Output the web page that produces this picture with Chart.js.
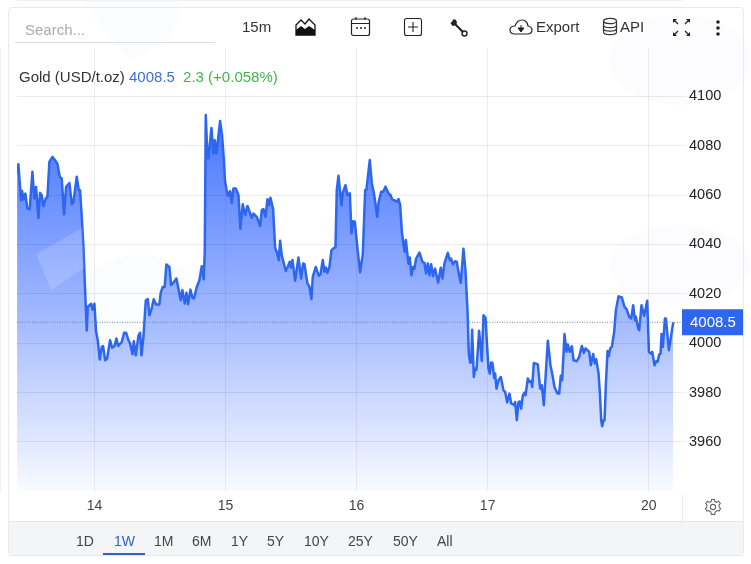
<!DOCTYPE html>
<html lang="en">
<head>
<meta charset="UTF-8">
<title>Gold (USD/t.oz)</title>
<script src="https://cdn.jsdelivr.net/npm/chart.js@4"></script>
<style>
  html, body { margin: 0; padding: 0; background: #fff; }
  body { width: 751px; height: 564px; position: relative; overflow: hidden; font-family: "Liberation Sans", Arial, sans-serif; color: #333; }
  #frame { position: absolute; left: 8px; top: 7px; width: 734px; height: 547px; border: 1px solid #e9e9e9; border-radius: 4px; }
  #bottom { position: absolute; left: 9px; top: 521px; width: 734px; height: 33px; background: rgba(240,241,243,.75); border-top: 1px solid #e6e6e6; border-radius: 0 0 4px 4px; }
  #blobs, #chart { position: absolute; left: 0; top: 0; }
  .txt { position: absolute; font-size: 14px; line-height: 18px; white-space: nowrap; }
  .big { font-size: 15px; }
  .icon { position: absolute; }
  #search { left: 25px; top: 21px; color: #aaa; }
  #searchline { position: absolute; left: 15px; top: 42px; width: 200px; height: 1px; background: #ddd; }
  #head { left: 19px; top: 68px; color: #333; }
  #head .p { color: #3f6fd8; }
  #head .c { color: #3fb74d; margin-left: 4px; }
  #underline { position: absolute; left: 103px; top: 553px; width: 42px; height: 2px; background: #2f62c9; }
  #axisstub { position: absolute; left: 682px; top: 495px; width: 1px; height: 26px; background: #e8e8e8; }
</style>
</head>
<body>
<svg id="blobs" width="751" height="564">
  <path d="M85 0 L180 0 Q185 40 130 60 Q100 30 85 0Z" fill="#fbfcfe"/>
  <ellipse cx="140" cy="300" rx="60" ry="45" fill="#fbfcfe"/>
  <ellipse cx="680" cy="60" rx="70" ry="45" fill="#fcfcfe"/>
  <ellipse cx="680" cy="265" rx="70" ry="40" fill="#fcfcfe"/>
</svg>
<div id="frame"></div>
<div id="bottom"></div>
<div id="axisstub"></div>
<canvas id="chart" width="751" height="564"></canvas>

<div class="txt big" id="search">Search...</div>
<div id="searchline"></div>
<div class="txt big" style="left:242px;top:18px">15m</div>

<svg class="icon" style="left:295px;top:17px" width="21" height="20" viewBox="0 0 21 20">
  <path d="M1 18 V8 L6 3 L10 7 L14 2 L20 8 V18 Z" fill="none" stroke="#111" stroke-width="1.3"/>
  <path d="M1 18 V13 L6 9 L10 12 L14 9 L20 13 V18 Z" fill="#111"/>
</svg>
<svg class="icon" style="left:350px;top:16px" width="21" height="21" viewBox="0 0 21 21">
  <rect x="1.5" y="3" width="18" height="16.5" rx="2" fill="none" stroke="#222" stroke-width="1.2"/>
  <path d="M1.5 7.5 H19.5 M6 1 V4 M15 1 V4" stroke="#222" stroke-width="1.2"/>
  <path d="M6 12 H8 M10 12 H12 M14 12 H16" stroke="#222" stroke-width="1.4"/>
</svg>
<svg class="icon" style="left:403px;top:17px" width="20" height="20" viewBox="0 0 20 20">
  <rect x="1.5" y="1.5" width="17" height="17" rx="2" fill="none" stroke="#222" stroke-width="1.1"/>
  <path d="M10 5 V15 M5 10 H15" stroke="#222" stroke-width="1.1"/>
</svg>
<svg class="icon" style="left:449px;top:18px" width="20" height="20" viewBox="0 0 20 20">
  <path d="M1.5 5 L4 2.5 L3.5 1.5 L6.5 1.5 L8 4 L7.5 6 L15 13.5 L13.5 15 L6 7.5 L3.5 8 Z" fill="#222"/>
  <circle cx="15.5" cy="15.5" r="2.5" fill="none" stroke="#222" stroke-width="1.4"/>
</svg>
<svg class="icon" style="left:509px;top:17px" width="24" height="20" viewBox="0 0 24 20">
  <path d="M6 17 Q1 17 1 13 Q1 9 6 9 Q8 3 13 3 Q18 3 19 9 Q23 10 23 13 Q23 17 18 17 Z" fill="none" stroke="#222" stroke-width="1.2"/>
  <path d="M12 8 V12 M9 11 L12 15 L15 11 Z" stroke="#222" fill="#222" stroke-width="1"/>
</svg>
<div class="txt big" style="left:536px;top:18px">Export</div>
<svg class="icon" style="left:602px;top:17px" width="16" height="20" viewBox="0 0 16 20">
  <g fill="none" stroke="#333" stroke-width="1.2">
    <ellipse cx="8" cy="4" rx="6.5" ry="2.7"/>
    <path d="M1.5 4 V15 C1.5 18.5 14.5 18.5 14.5 15 V4"/>
    <path d="M1.5 8 C1.5 11.5 14.5 11.5 14.5 8 M1.5 11.5 C1.5 15 14.5 15 14.5 11.5"/>
  </g>
</svg>
<div class="txt big" style="left:620px;top:18px">API</div>
<svg class="icon" style="left:671px;top:17px" width="21" height="21" viewBox="0 0 21 21">
  <g fill="none" stroke="#222" stroke-width="1.2">
    <path d="M2 6 V2 H6 Z M15 2 H19 V6 Z M2 15 V19 H6 Z M15 19 H19 V15 Z" fill="#222" stroke="none"/>
    <path d="M3 3 L7 7 M18 3 L14 7 M3 18 L7 14 M18 18 L14 14"/>
  </g>
</svg>
<svg class="icon" style="left:714px;top:19px" width="8" height="18" viewBox="0 0 8 18">
  <circle cx="4" cy="3" r="1.8" fill="#222"/><circle cx="4" cy="9" r="1.8" fill="#222"/><circle cx="4" cy="15" r="1.8" fill="#222"/>
</svg>

<div class="txt big" id="head">Gold (USD/t.oz) <span class="p">4008.5</span> <span class="c">2.3 (+0.058%)</span></div>

<svg class="icon" style="left:704px;top:498px" width="18" height="18" viewBox="0 0 18 18">
  <circle cx="9" cy="9" r="2.6" fill="none" stroke="#666" stroke-width="1.1"/>
  <path d="M7.6 1.5 H10.4 L10.8 3.6 L12.6 4.4 L14.4 3.2 L16.3 5.5 L14.9 7.2 L15.3 9 L16.6 10.6 L15 13 L13 12.5 L11.4 13.9 L10.6 16.4 H7.4 L6.6 13.9 L5 12.5 L3 13 L1.4 10.6 L2.7 9 L3.1 7.2 L1.7 5.5 L3.6 3.2 L5.4 4.4 L7.2 3.6 Z" fill="none" stroke="#666" stroke-width="1.1"/>
</svg>
<div id="underline"></div>

<script>
// hours counted from the start of the 14th, weekend gap closed
const hours = [
  -14.19,-13.95,-13.46,-13.28,-12.97,-12.67,-12.3,-11.87,-11.38,-11.02,-10.71,-10.28,-9.98,-9.67,-9.37,-8.94,-8.63,-8.27,-7.72,-7.23,-6.8,-6.37,-6.01,-5.58,-5.21,-4.6,-4.17,-3.87,-3.26,-2.89,-2.65,-2.34,-2.03,-1.73,-1.42,-1.24,-0.63,-0.38,-0.02,
  0.29,0.59,0.96,1.33,1.57,1.94,2.3,2.85,3.22,3.65,4.01,4.32,4.99,5.42,5.79,6.21,6.52,6.95,7.19,7.56,8.05,8.35,8.6,8.96,9.39,9.76,10.06,10.47,10.84,11.27,11.88,12.12,12.49,12.85,13.16,13.71,14.02,14.5,15,15.36,15.79,16.09,16.52,16.83,17.13,17.56,17.93,18.23,18.72,19.21,19.64,20,20.19,20.37,20.68,20.86,21.41,21.78,22.02,22.33,23,23.36,23.67,23.91,
  24.4,24.83,25.14,25.44,25.87,26.36,26.72,27.15,27.58,28.01,28.8,29.11,29.72,30.33,30.64,30.94,31.31,31.67,31.92,32.22,32.71,33.08,33.38,33.75,33.99,34.29,34.6,35.03,35.39,35.76,36,36.25,36.74,37.35,37.84,38.2,38.45,39,39.36,39.73,39.97,40.52,41.07,41.38,41.81,42.11,42.36,42.66,43.03,43.4,43.76,44.13,44.37,44.68,45.23,45.47,45.96,46.33,46.76,47.06,47.37,47.67,
  48.16,48.65,49.14,49.57,49.81,50.42,50.79,51.16,51.4,51.77,52.01,52.5,52.87,53.29,53.84,54.21,54.52,55.07,55.37,55.68,55.98,56.29,56.78,57.02,57.49,57.74,58.04,58.35,58.59,58.9,59.51,60.06,60.42,60.73,61.03,61.34,61.65,62.01,62.38,62.93,63.42,63.72,64.09,64.7,65.07,65.31,65.62,66.05,66.35,66.66,67.08,67.57,67.94,68.31,68.55,68.79,68.98,69.16,69.47,69.71,69.96,70.44,70.93,71.24,71.6,71.91,
  72.16,72.4,72.64,72.89,73.19,73.38,73.62,73.99,74.42,74.9,75.21,75.58,76,76.31,76.92,77.04,77.35,77.65,77.9,78.14,78.45,78.75,78.94,79.36,79.67,79.98,80.16,80.46,81.19,81.62,81.92,82.29,83.02,83.51,83.88,84.24,84.79,85.1,85.4,85.65,86.08,86.44,86.69,87.05,87.42,87.73,88.34,88.77,89.25,89.62,89.93,90.6,90.9,91.33,91.64,91.88,92.31,92.55,92.8,92.98,93.23,93.41,93.65,93.96,94.2,94.45,94.75,95.18,95.49,95.98,
  96.59,97.07,97.44,97.99,98.3,98.66,98.97,99.15,99.58,99.76,100.19,100.68,101.23,101.54,101.9,102.15,102.57,102.88,103.12,103.43,103.67,103.86,104.1,104.47,104.65,105.2,106
];
const prices = [
  4068.7,4072.5,4057.9,4061.7,4058.2,4060.6,4054.5,4054.3,4069.4,4058.6,4063.3,4050.7,4060.9,4059.9,4055.5,4058.6,4059.2,4073.4,4075.5,4074.1,4072.7,4067.4,4066.7,4052.2,4063.3,4064.9,4056.3,4057.2,4067.4,4062,4062,4051.2,4039,4021.5,4005.2,4014.7,4016,4013.6,4016,
  4004.6,4001.2,3993.4,3998.5,3998.8,3993.1,3993.8,4001.2,3998.2,3998.8,4001.9,3998.9,4000.5,4004.2,4004.2,4001.2,3999.9,3995.5,4000.8,3995.1,4003.2,4004.2,3995.1,4002.5,4017.4,4017.9,4011.3,4014,4017.8,4015.7,4015.7,4020.4,4022.8,4022.8,4031.9,4030.9,4023.5,4024.6,4026.2,4022.2,4017.4,4021.5,4016.1,4020.4,4015.8,4021.7,4018.4,4018.1,4022.8,4025.5,4031.2,4025.9,4037,4092.4,4075.5,4074.8,4087.2,4076.8,4082.2,4076.8,4090,4084.2,4074.8,4065.4,
  4059.7,4061.6,4056.8,4062.7,4062.7,4060,4046.4,4056.3,4051.9,4055.6,4050.8,4052.5,4051.2,4047.5,4053.9,4054.3,4051.2,4058.3,4055.9,4058.9,4054.3,4038.4,4037,4033.6,4041.5,4035.7,4033,4029.3,4031,4033,4030.7,4033.7,4025.3,4034.7,4026.2,4032.3,4032,4024.2,4022.9,4017.9,4026.9,4030.9,4027.3,4027.8,4033.7,4028.9,4030.7,4028.5,4031,4037.7,4038.4,4038.8,4062,4067.8,4055.9,4060.9,4064,4060,4060.7,4044.5,4049.4,4049.2,
  4038.4,4028.7,4036.3,4062,4062.3,4074.2,4064.7,4060.9,4057.3,4051.2,4056.9,4061.3,4061.3,4063.4,4060.7,4060,4058.2,4057.7,4057.3,4058.4,4055.9,4045.1,4037,4041.8,4032.2,4034.7,4027.5,4030.9,4030.2,4034.3,4036.7,4032.9,4032.5,4028.2,4032.3,4027.5,4032,4027.1,4030.2,4024.6,4030.6,4026.2,4032.3,4036.6,4033.6,4034.3,4032,4033.2,4032.9,4028.9,4024.4,4038.3,4029.5,4013.4,3995.8,3992.2,3992.2,4005.5,3986.3,3989.7,3989.3,4005,3992.8,4011.3,4010.4,3998.5,
  3989.7,3987.7,3992.2,3992,3985.9,3987.7,3981.6,3985,3986.3,3980.9,3980.3,3976,3979.6,3975.6,3974.9,3976.2,3968.8,3976.2,3976.4,3973.5,3978.9,3980,3978.9,3985.7,3984.3,3984.7,3982.3,3992,3991.4,3981.6,3983,3974.9,4001,3991.1,3987,3982.3,3979.6,3979.6,3986.8,3985,4003.7,3996.5,3999.5,3996.5,3998.8,3993.1,3992.7,3994.5,3998.9,3996.1,3997.9,3996.5,3991.1,3995.6,3991.8,3993.5,3988,3980.3,3968.8,3966.4,3968.8,3968.8,3983,3996.8,3994.7,3997.9,3998.5,4004.6,4013.4,4019,
  4018.5,4014.7,4013.8,4010.4,4010,4015.4,4009.3,4010.7,4006,4005.3,4015.4,4011.1,4017.2,3996.5,3995.8,3996.5,3991.1,3992.7,3992.5,3995.4,3995.8,4003.7,3998.5,4010,4010,3997.2,4008.5
];
const lastPrice = 4008.5;
const yTicks = [3960, 3980, 4000, 4020, 4040, 4060, 4080, 4100];
const xTickHours = [0, 24, 48, 72, 101.5];
const xTickLabels = ['14', '15', '16', '17', '20'];
const ranges = ['1D', '1W', '1M', '6M', '1Y', '5Y', '10Y', '25Y', '50Y', 'All'];
const rangeLefts = [76, 114, 154, 192, 231, 267, 304, 348, 393, 437];

ranges.forEach(function(r, i) {
  const el = document.createElement('div');
  el.className = 'txt';
  el.textContent = r;
  el.style.left = rangeLefts[i] + 'px';
  el.style.top = '532px';
  el.style.color = r === '1W' ? '#2f62c9' : '#444';
  document.body.appendChild(el);
});

const pricePoints = hours.map(function(h, i) { return { x: h, y: prices[i] }; });

// last price tag on the axis and the pale logo mark over the fill
const overlay = {
  id: 'overlay',
  afterDraw: function(chart) {
    const c = chart.ctx;
    const y = chart.scales.y.getPixelForValue(lastPrice);
    c.save();
    c.fillStyle = '#2d67f0';
    c.fillRect(chart.chartArea.right, y - 13, 61, 26);
    c.fillStyle = '#fff';
    c.font = '15px "Liberation Sans", Arial, sans-serif';
    c.textBaseline = 'middle';
    c.fillText(lastPrice.toFixed(1), chart.chartArea.right + 8, y + 1);
    c.restore();
  },
  afterDatasetsDraw: function(chart) {
    const c = chart.ctx;
    c.save();
    c.fillStyle = 'rgba(255,255,255,0.16)';
    c.beginPath();
    c.moveTo(36, 254);
    c.lineTo(82, 228);
    c.lineTo(84, 268);
    c.lineTo(51, 290);
    c.closePath();
    c.fill();
    c.restore();
  }
};

new Chart(document.getElementById('chart'), {
  type: 'line',
  data: {
    datasets: [
      {
        data: pricePoints,
        order: 1,
        borderColor: '#2d67f0',
        borderWidth: 2.5,
        borderJoinStyle: 'round',
        pointRadius: 0,
        tension: 0,
        fill: 'start',
        backgroundColor: function(context) {
          const area = context.chart.chartArea;
          if (!area) return 'transparent';
          const g = context.chart.ctx.createLinearGradient(0, area.top + 60, 0, area.bottom);
          g.addColorStop(0, '#4373ff');
          g.addColorStop(0.55, '#a3baff');
          g.addColorStop(1, '#fafbff');
          return g;
        }
      },
      {
        data: [{ x: -14.2, y: lastPrice }, { x: 107.6, y: lastPrice }],
        order: 0,
        borderColor: '#5f86b8',
        borderWidth: 1.2,
        borderDash: [1, 1.5],
        pointRadius: 0,
        fill: false
      }
    ]
  },
  options: {
    responsive: false,
    animation: false,
    layout: { padding: { left: 17, top: 48, right: 0, bottom: 0 } },
    plugins: { legend: { display: false }, tooltip: { enabled: false } },
    scales: {
      x: {
        type: 'linear',
        min: -14.2,
        max: 107.6,
        afterBuildTicks: function(axis) {
          axis.ticks = xTickHours.map(function(v) { return { value: v }; });
        },
        afterFit: function(axis) { axis.height = 73; },
        grid: { color: 'rgba(20,30,70,0.08)', drawTicks: false, z: 1 },
        border: { color: '#e4e4e4' },
        ticks: {
          maxRotation: 0,
          autoSkip: false,
          padding: 7,
          color: '#444',
          font: { family: '"Liberation Sans", Arial, sans-serif', size: 14 },
          callback: function(value) { return xTickLabels[xTickHours.indexOf(value)]; }
        }
      },
      y: {
        position: 'right',
        min: 3940.15,
        max: 4119.56,
        afterBuildTicks: function(axis) {
          axis.ticks = yTicks.map(function(v) { return { value: v }; });
        },
        afterFit: function(axis) { axis.width = 69; },
        grid: { color: 'rgba(20,30,70,0.09)', tickLength: 4, z: 1 },
        border: { color: '#e4e4e4' },
        ticks: {
          padding: 3,
          color: '#222',
          font: { family: '"Liberation Sans", Arial, sans-serif', size: 14.5 },
          callback: function(value) { return String(value); }
        }
      }
    }
  },
  plugins: [overlay]
});
</script>
</body>
</html>
